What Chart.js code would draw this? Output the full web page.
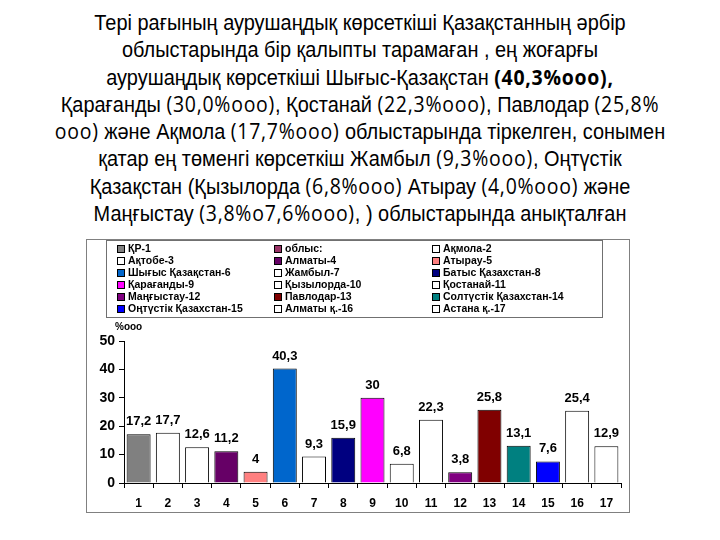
<!DOCTYPE html>
<html>
<head>
<meta charset="utf-8">
<script src="https://cdn.jsdelivr.net/npm/chart.js@4/dist/chart.umd.min.js"></script>
<style>
  body { margin: 0; width: 720px; height: 540px; background: #fff; position: relative; overflow: hidden; }
  #heading {
    position: absolute; left: 0; top: 10px; width: 720px; text-align: center; white-space: nowrap;
    font-family: "Liberation Sans", Arial, sans-serif;
    font-size: 21.5px; line-height: 27.3px; color: #000;
    transform: scaleX(0.927); transform-origin: 360px 0;
  }
  #heading .n { font-family: "Open Sans", sans-serif; font-size: 21px; letter-spacing: 0.8px; line-height: 1; }
  #box {
    position: absolute; left: 86px; top: 239px; width: 542px; height: 272px;
    border: 1px solid #808080;
  }
</style>
</head>
<body>
<div id="heading">Тері рағының аурушаңдық көрсеткіші Қазақстанның әрбір<br>облыстарында бір қалыпты тарамаған , ең жоғарғы<br>аурушаңдық көрсеткіші Шығыс-Қазақстан <b class="n">(40,3%ooo),</b><br>Қарағанды <span class="n">(30,0%ooo)</span>, Қостанай <span class="n">(22,3%ooo)</span>, Павлодар <span class="n">(25,8%</span><br><span class="n">ooo)</span> және Ақмола <span class="n">(17,7%ooo)</span> облыстарында тіркелген, сонымен<br>қатар ең төменгі көрсеткіш Жамбыл <span class="n">(9,3%ooo)</span>, Оңтүстік<br>Қазақстан (Қызылорда <span class="n">(6,8%ooo)</span> Атырау <span class="n">(4,0%ooo)</span> және<br>Маңғыстау <span class="n">(3,8%о7,6%ooo)</span>, ) облыстарында анықталған</div>
<div id="box"><canvas id="myChart"></canvas></div>
<script>
const categories = ['1', '2', '3', '4', '5', '6', '7', '8', '9', '10', '11', '12', '13', '14', '15', '16', '17'];
const values = [17.2, 17.7, 12.6, 11.2, 4, 40.3, 9.3, 15.9, 30, 6.8, 22.3, 3.8, 25.8, 13.1, 7.6, 25.4, 12.9];
const regionNames = ['ҚР', 'Ақмола', 'Ақтобе', 'Алматы', 'Атырау', 'Шығыс Қазақстан', 'Жамбыл', 'Батыс Қазахстан',
    'Қарағанды', 'Қызылорда', 'Қостанай', 'Маңғыстау', 'Павлодар', 'Солтүстік Қазахстан', 'Оңтүстік Қазахстан',
    'Алматы қ.', 'Астана қ.'];
const barColors = ['#808080', '#ffffff', '#ffffff', '#660066', '#ff8080', '#0066cc', '#ffffff', '#000080',
    '#ff00ff', '#ffffff', '#ffffff', '#800080', '#800000', '#008080', '#0000ff', '#ffffff', '#ffffff'];
const groupLabel = 'облыс:';
const groupColor = '#993366';
const unitLabel = '%ooo';

const FONT = '"Liberation Sans", Arial, sans-serif';

// legend entries: ҚР first, then the "облыс:" header, then the regions
const legendItems = regionNames.map((n, i) => ({ text: n + '-' + (i + 1), color: barColors[i] }));
legendItems.splice(1, 0, { text: groupLabel, color: groupColor });

const gridLegend = {
    id: 'gridLegend',
    afterDraw(chart) {
        const ctx = chart.ctx;
        ctx.save();
        ctx.strokeStyle = '#707070';
        ctx.lineWidth = 1;
        ctx.strokeRect(19.5, 0.5, 496, 77);
        const colX = [30, 187, 345];
        ctx.font = 'bold 10.5px ' + FONT;
        ctx.textBaseline = 'middle';
        ctx.textAlign = 'left';
        legendItems.forEach((it, i) => {
            const x = colX[i % 3];
            const y = 9 + Math.floor(i / 3) * 12;
            ctx.fillStyle = it.color;
            ctx.fillRect(x, y - 4, 8, 8);
            ctx.strokeStyle = '#000';
            ctx.strokeRect(x + 0.5, y - 3.5, 7, 7);
            ctx.fillStyle = '#000';
            ctx.fillText(it.text, x + 11, y + 0.5);
        });
        // unit above the value axis
        ctx.font = 'bold 10px ' + FONT;
        ctx.fillText(unitLabel, 28, 87);
        ctx.restore();
    }
};

const valueLabels = {
    id: 'valueLabels',
    afterDatasetsDraw(chart) {
        const ctx = chart.ctx;
        const meta = chart.getDatasetMeta(0);
        ctx.save();
        ctx.font = 'bold 13px ' + FONT;
        ctx.fillStyle = '#000';
        ctx.textAlign = 'center';
        ctx.textBaseline = 'bottom';
        meta.data.forEach((bar, i) => {
            ctx.fillText(String(values[i]).replace('.', ','), bar.x, bar.y - 6);
        });
        ctx.restore();
    }
};

const canvas = document.getElementById('myChart').getContext('2d');
new Chart(canvas, {
    type: 'bar',
    data: {
        labels: categories,
        datasets: [{
            data: values,
            backgroundColor: barColors,
            borderColor: '#000',
            borderWidth: 1,
            barPercentage: 0.82,
            categoryPercentage: 1
        }]
    },
    options: {
        responsive: true,
        maintainAspectRatio: false,
        animation: false,
        layout: { padding: { top: 101, left: 7, right: 8, bottom: 0 } },
        plugins: {
            legend: { display: false },
            tooltip: { enabled: false }
        },
        scales: {
            x: {
                afterFit: s => { s.height = 29; },
                grid: { display: true, offset: true, drawOnChartArea: false, tickLength: 5, color: '#000' },
                border: { color: '#000' },
                ticks: { color: '#000', font: { family: FONT, size: 12, weight: 'bold' }, padding: 8 }
            },
            y: {
                min: 0,
                max: 50,
                afterFit: s => { s.width = 30; },
                grid: { drawOnChartArea: false, tickLength: 5, color: '#000' },
                border: { color: '#000' },
                ticks: { stepSize: 10, color: '#000', font: { family: FONT, size: 14, weight: 'bold' }, padding: 4 }
            }
        }
    },
    plugins: [gridLegend, valueLabels]
});
</script>
</body>
</html>
